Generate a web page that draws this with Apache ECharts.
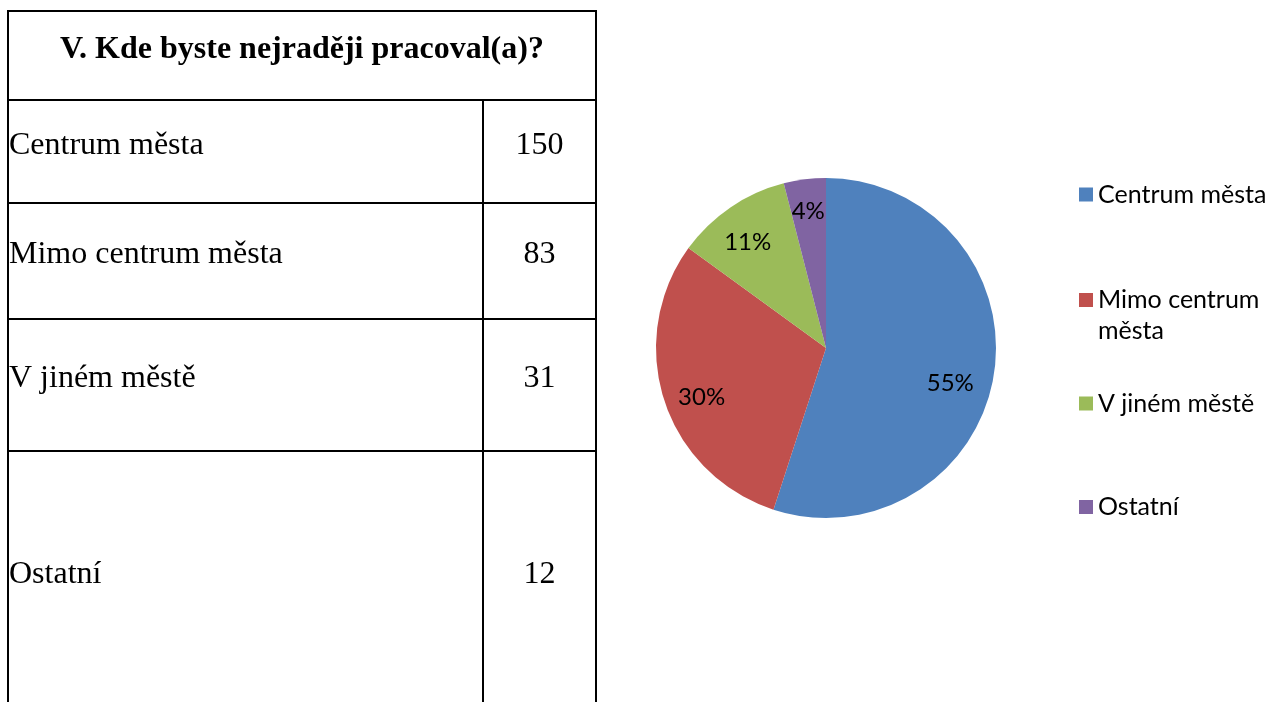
<!DOCTYPE html>
<html>
<head>
<meta charset="utf-8">
<title>V. Kde byste nejraději pracoval(a)?</title>
<script src="https://cdn.jsdelivr.net/npm/echarts@6/dist/echarts.min.js"></script>
<style>
  html, body { margin: 0; padding: 0; background: #fff; }
  #chart { width: 1288px; height: 702px; }
</style>
</head>
<body>
<div id="chart"></div>
<script>
// Survey question and answers
const questionTitle = 'V. Kde byste nejraději pracoval(a)?';
const categories = ['Centrum města', 'Mimo centrum města', 'V jiném městě', 'Ostatní'];
const counts = [150, 83, 31, 12];
// Shares (%) as printed on the pie slices
const sharePercents = [55, 30, 11, 4];

// Styling
const sliceColors = ['#4F81BD', '#C0504D', '#9BBB59', '#8064A2'];
const serifFont = '"Liberation Serif", "Times New Roman", serif';
const sansFont = 'Lato, "Noto Sans", sans-serif';

// Table layout (px)
const tableLeft = 8, tableRight = 596, valueColX = 483, tableTop = 11, pageBottom = 702;
const rowLines = [100, 203, 319, 451, 711];   // header bottom, row separators, last row runs past the page
const textLift = 6;

// Small nudges for the slice labels, in slice order
const labelNudges = [[-8, 14], [3, 8], [-3, 5], [-1, -4]];

const chart = echarts.init(document.getElementById('chart'), null, { renderer: 'canvas' });

const graphics = [];
function hLine(y, x1, x2) {
  graphics.push({ type: 'line', silent: true, shape: { x1: x1, y1: y, x2: x2, y2: y }, style: { stroke: '#000', lineWidth: 2 } });
}
function vLine(x, y1, y2) {
  graphics.push({ type: 'line', silent: true, shape: { x1: x, y1: y1, x2: x, y2: y2 }, style: { stroke: '#000', lineWidth: 2 } });
}

// Outer frame and grid
hLine(tableTop, tableLeft - 1, tableRight + 1);
vLine(tableLeft, tableTop - 1, pageBottom);
vLine(tableRight, tableTop - 1, pageBottom);
vLine(valueColX, rowLines[0], pageBottom);
for (let i = 0; i < rowLines.length - 1; i++) hLine(rowLines[i], tableLeft, tableRight);

// Header cell
graphics.push({
  type: 'text', silent: true,
  style: {
    x: (tableLeft + tableRight) / 2, y: (tableTop + rowLines[0]) / 2 - textLift,
    text: questionTitle, font: 'bold 32px ' + serifFont, fill: '#000',
    align: 'center', verticalAlign: 'middle'
  }
});

// Body rows: category name and count
categories.forEach(function (name, i) {
  const cy = (rowLines[i] + rowLines[i + 1]) / 2 - textLift;
  graphics.push({
    type: 'text', silent: true,
    style: { x: tableLeft + 1, y: cy, text: name, font: '32px ' + serifFont, fill: '#000', align: 'left', verticalAlign: 'middle' }
  });
  graphics.push({
    type: 'text', silent: true,
    style: { x: (valueColX + tableRight) / 2, y: cy, text: String(counts[i]), font: '32px ' + serifFont, fill: '#000', align: 'center', verticalAlign: 'middle' }
  });
});

const pieData = categories.map(function (name, i) {
  return { name: name, value: sharePercents[i], itemStyle: { color: sliceColors[i] } };
});

// One legend block per entry so each sits on its own row
const legendCenters = [194.5, 300, 403.5, 507];
const legendLineHeight = 31;
const legends = categories.map(function (name, i) {
  const wraps = name === 'Mimo centrum města';
  const lines = wraps ? 3 : 1;
  return {
    data: [name],
    orient: 'vertical',
    left: 1079,
    top: legendCenters[i] - (lines * legendLineHeight) / 2,
    padding: 0,
    itemWidth: 14,
    itemHeight: 14,
    icon: 'rect',
    selectedMode: false,
    formatter: function (n) { return wraps ? '\nMimo centrum\nměsta' : n; },
    textStyle: { fontFamily: sansFont, fontSize: 25, color: '#000', lineHeight: legendLineHeight }
  };
});

const center = [826, 348];
const radius = 170;

chart.setOption({
  backgroundColor: '#fff',
  animation: false,
  graphic: { elements: graphics },
  legend: legends,
  series: [
    {
      name: 'Odpovědi',
      type: 'pie',
      center: center,
      radius: radius,
      startAngle: 90,
      clockwise: true,
      silent: true,
      label: { show: false },
      labelLine: { show: false },
      itemStyle: { borderWidth: 0 },
      data: pieData
    },
    {
      // transparent ring carrying the percentage labels toward the rim
      name: 'Podíl',
      type: 'pie',
      center: center,
      radius: [radius * 0.54, radius],
      startAngle: 90,
      clockwise: true,
      silent: true,
      legendHoverLink: false,
      itemStyle: { color: 'rgba(0,0,0,0)', borderWidth: 0 },
      label: {
        show: true,
        position: 'inside',
        formatter: '{c}%',
        color: '#000',
        fontFamily: sansFont,
        fontSize: 24,
        textBorderWidth: 0
      },
      labelLine: { show: false },
      labelLayout: function (params) {
        const n = labelNudges[params.dataIndex] || [0, 0];
        return { dx: n[0], dy: n[1] };
      },
      data: categories.map(function (name, i) { return { name: name, value: sharePercents[i] }; })
    }
  ]
});
</script>
</body>
</html>
